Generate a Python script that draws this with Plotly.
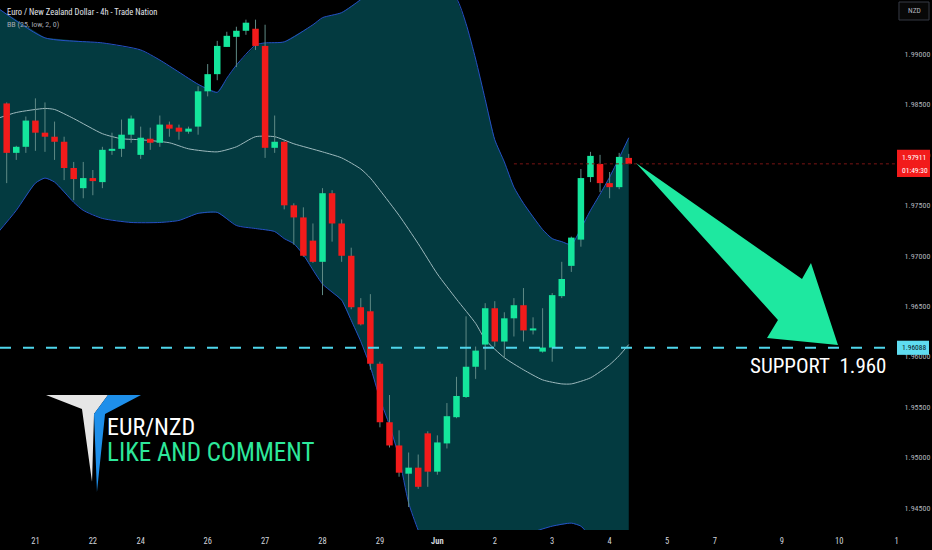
import plotly.graph_objects as go

# --- EUR/NZD 4h candles ---
opens = [1.9851, 1.9802, 1.9808, 1.9834, 1.9822, 1.9818, 1.9813, 1.9787, 1.9767, 1.9777,
         1.9773, 1.9804, 1.9806, 1.9820, 1.9800, 1.9816, 1.9812, 1.9830, 1.9827, 1.9823,
         1.9828, 1.9863, 1.9880, 1.9907, 1.9917, 1.9923, 1.9925, 1.9908, 1.9807, 1.9813,
         1.9750, 1.9738, 1.9715, 1.9694, 1.9762, 1.9732, 1.9700, 1.9649, 1.9645, 1.9593,
         1.9535, 1.9512, 1.9484, 1.9490, 1.9524, 1.9486, 1.9514, 1.9540, 1.9560, 1.9590,
         1.9612, 1.9648, 1.9615, 1.9638, 1.9651, 1.9626, 1.9605, 1.9609, 1.9660, 1.9690,
         1.9716, 1.9778, 1.9791, 1.9772, 1.9768, 1.9797]
highs = [1.9852, 1.9809, 1.9838, 1.9856, 1.9852, 1.9833, 1.9818, 1.9793, 1.9793, 1.9785,
         1.9808, 1.9822, 1.9835, 1.9839, 1.9828, 1.9827, 1.9839, 1.9833, 1.9830, 1.9828,
         1.9868, 1.9890, 1.9913, 1.9922, 1.9927, 1.9934, 1.9934, 1.9929, 1.9839, 1.9815,
         1.9752, 1.9748, 1.9732, 1.9767, 1.9765, 1.9736, 1.9708, 1.9658, 1.9662, 1.9595,
         1.9562, 1.9527, 1.9505, 1.9503, 1.9526, 1.9522, 1.9554, 1.9580, 1.9640, 1.9610,
         1.9653, 1.9655, 1.9644, 1.9658, 1.9668, 1.9639, 1.9648, 1.9663, 1.9694, 1.9719,
         1.9786, 1.9803, 1.9800, 1.9783, 1.9802, 1.9801]
lows = [1.9772, 1.9795, 1.9802, 1.9804, 1.9803, 1.9795, 1.9775, 1.9755, 1.9757, 1.9760,
        1.9767, 1.9800, 1.9798, 1.9812, 1.9796, 1.9805, 1.9808, 1.9818, 1.9815, 1.9821,
        1.9820, 1.9858, 1.9874, 1.9907, 1.9887, 1.9919, 1.9904, 1.9797, 1.9802, 1.9746,
        1.9711, 1.9699, 1.9693, 1.9661, 1.9714, 1.9694, 1.9647, 1.9631, 1.9587, 1.9530,
        1.9510, 1.9481, 1.9451, 1.9469, 1.9471, 1.9483, 1.9509, 1.9539, 1.9559, 1.9578,
        1.9587, 1.9610, 1.9599, 1.9620, 1.9615, 1.9622, 1.9604, 1.9595, 1.9658, 1.9684,
        1.9709, 1.9773, 1.9763, 1.9757, 1.9766, 1.9791]
closes = [1.9802, 1.9808, 1.9834, 1.9822, 1.9818, 1.9813, 1.9787, 1.9776, 1.9777, 1.9774,
          1.9805, 1.9806, 1.9820, 1.9836, 1.9817, 1.9812, 1.9830, 1.9826, 1.9823, 1.9826,
          1.9863, 1.9880, 1.9908, 1.9918, 1.9923, 1.9931, 1.9908, 1.9807, 1.9813, 1.9750,
          1.9738, 1.9700, 1.9694, 1.9762, 1.9732, 1.9700, 1.9649, 1.9632, 1.9593, 1.9535,
          1.9512, 1.9485, 1.9490, 1.9471, 1.9486, 1.9515, 1.9541, 1.9561, 1.9590, 1.9606,
          1.9648, 1.9615, 1.9638, 1.9651, 1.9626, 1.9628, 1.9609, 1.9661, 1.9677, 1.9718,
          1.9777, 1.9799, 1.9772, 1.9768, 1.9798, 1.97911]

# Bollinger band BB(25, low, 2, 0), read at bar positions
upper_x = [-1, 4, 10, 14, 16, 18, 20, 22, 23, 24, 26, 27, 29, 32, 33, 35, 37, 39, 41, 43,
           45, 47, 48, 49, 50, 51, 52, 53, 54, 56, 57, 58, 59, 60, 61, 62, 63, 64, 65]
upper_y = [1.9946, 1.9916, 1.9911, 1.9904, 1.9894, 1.9882, 1.9870, 1.9862, 1.9876, 1.9889,
           1.9909, 1.9911, 1.9912, 1.9929, 1.9936, 1.9941, 1.9954, 1.9970, 1.9982, 1.9982,
           1.9970, 1.9955, 1.9930, 1.9895, 1.9855, 1.9815, 1.9793, 1.9768, 1.9752, 1.9726,
           1.9717, 1.9714, 1.9711, 1.9727, 1.9745, 1.9761, 1.9778, 1.9797, 1.9817]
lower_x = [-1, 1, 3, 4, 5, 7, 8, 10, 13, 16, 18, 20, 22, 24, 26, 28, 29, 30, 31, 32,
           33, 34, 35, 36, 37, 38, 39, 40, 41, 42, 43, 45, 47, 49, 51, 53, 55, 57, 59, 60,
           61, 63, 65]
lower_y = [1.9722, 1.9745, 1.9772, 1.9777, 1.9773, 1.9753, 1.9745, 1.9737, 1.9733, 1.9733,
           1.9735, 1.9742, 1.9743, 1.9730, 1.9727, 1.9724, 1.9717, 1.9712, 1.9701, 1.9686,
           1.9672, 1.9664, 1.9656, 1.9636, 1.9615, 1.9590, 1.9558, 1.9532, 1.9500, 1.9455,
           1.9428, 1.9385, 1.9360, 1.9370, 1.9390, 1.9415, 1.9426, 1.9432, 1.9435, 1.9432,
           1.9422, 1.9410, 1.9407]
basis_x = [-1, 1, 4, 5, 7, 10, 12, 14, 17, 19, 22, 24, 26, 28, 30, 33, 35, 37, 38, 39,
           41, 43, 45, 47, 49, 50, 52, 54, 56, 58, 59, 61, 63, 64, 65]
basis_y = [1.9836, 1.9842, 1.9846, 1.9845, 1.9836, 1.9821, 1.9816, 1.9815, 1.9812, 1.9806,
           1.9803, 1.9808, 1.9818, 1.9818, 1.9811, 1.9803, 1.9797, 1.9786, 1.9777, 1.9765,
           1.9740, 1.9712, 1.9682, 1.9657, 1.9633, 1.9617, 1.9599, 1.9587, 1.9577, 1.9573,
           1.9573, 1.9579, 1.9592, 1.9601, 1.9612]

day_ticks = [3, 9, 14, 21, 27, 33, 39, 45, 51, 57, 63, 69, 74, 81, 87, 93]
day_labels = ["21", "22", "24", "26", "27", "28", "29", "<b>Jun</b>", "2", "3", "4",
              "5", "7", "9", "10", "1"]
price_ticks = [1.945, 1.95, 1.955, 1.96, 1.965, 1.97, 1.975, 1.98, 1.985, 1.99]

support = 1.96088
last_price = closes[-1]
countdown = "01:49:30"

GREEN = "#14e69c"
RED = "#f21b1b"
NARROW = "Liberation Sans Narrow, Arial Narrow, Roboto Condensed, sans-serif"

# plot area is 897 x 530 px, helpers turn screen px into paper coords
PW, PH = 897.0, 530.0


def px(x, y):
    return x / PW, 1 - y / PH


def poly(points):
    pts = [px(x, y) for x, y in points]
    return "M " + " L ".join(f"{a:.4f},{b:.4f}" for a, b in pts) + " Z"


idx = list(range(len(closes)))

# wicks and bodies as line segments so they sit on top of the band fill
wick_x, wick_y = [], []
up_x, up_y, dn_x, dn_y = [], [], [], []
for i, o, h, l, c in zip(idx, opens, highs, lows, closes):
    wick_x += [i, i, None]
    wick_y += [l, h, None]
    lo, hi = min(o, c), max(o, c)
    if hi - lo < 0.00014:
        mid = (hi + lo) / 2
        lo, hi = mid - 0.00007, mid + 0.00007
    if c >= o:
        up_x += [i, i, None]
        up_y += [lo, hi, None]
    else:
        dn_x += [i, i, None]
        dn_y += [lo, hi, None]

fig = go.Figure()

# --- band fill + lines ---
fig.add_trace(go.Scatter(x=upper_x + lower_x[::-1], y=upper_y + lower_y[::-1],
                         fill="toself", fillcolor="#033a40", line=dict(width=0),
                         mode="lines", hoverinfo="skip"))
fig.add_trace(go.Scatter(x=upper_x, y=upper_y, mode="lines",
                         line=dict(color="#2550c4", width=1, shape="spline", smoothing=0.6)))
fig.add_trace(go.Scatter(x=lower_x, y=lower_y, mode="lines",
                         line=dict(color="#2550c4", width=1, shape="spline", smoothing=0.6)))
fig.add_trace(go.Scatter(x=basis_x, y=basis_y, mode="lines",
                         line=dict(color="#9db9bd", width=1, shape="spline", smoothing=0.6)))

# --- candles ---
fig.add_trace(go.Scatter(x=wick_x, y=wick_y, mode="lines",
                         line=dict(color="#5f8a85", width=1), hoverinfo="skip"))
fig.add_trace(go.Scatter(x=up_x, y=up_y, mode="lines", line=dict(color=GREEN, width=6.5)))
fig.add_trace(go.Scatter(x=dn_x, y=dn_y, mode="lines", line=dict(color=RED, width=6.5)))

shapes = [
    # support level
    dict(type="line", xref="paper", x0=0, x1=1, yref="y", y0=support, y1=support,
         line=dict(color="#4fd6ec", width=2, dash="11px,12px")),
    # last price line
    dict(type="line", xref="x", x0=53, x1=93.03, yref="y", y0=last_price, y1=last_price,
         line=dict(color="#7a1414", width=1, dash="dot")),
    # price labels on the scale
    dict(type="rect", xref="paper", x0=px(897, 0)[0], x1=px(930, 0)[0], yref="y",
         y0=last_price - 0.0013, y1=last_price + 0.0014, fillcolor=RED, line=dict(width=0)),
    dict(type="rect", xref="paper", x0=px(897, 0)[0], x1=px(929, 0)[0], yref="y",
         y0=support - 0.0007, y1=support + 0.0007, fillcolor="#5fdcf0", line=dict(width=0)),
    # currency box
    dict(type="path", xref="paper", yref="paper",
         path=poly([(899, 2), (929, 2), (929, 20), (899, 20)]),
         fillcolor="#080808", line=dict(color="#363a45", width=1)),
    # big arrow
    dict(type="path", xref="paper", yref="paper",
         path=poly([(636, 163), (802, 279), (811, 263), (838, 345), (767, 338), (778, 320)]),
         fillcolor="#1ee8a0", line=dict(width=0)),
    # logo
    dict(type="path", xref="paper", yref="paper",
         path=poly([(46, 395), (108, 395), (94, 414), (92, 482), (82, 409)]),
         fillcolor="#e6e6e6", line=dict(width=0)),
    dict(type="path", xref="paper", yref="paper",
         path=poly([(108, 395), (141, 395), (105, 414), (97, 492), (94, 414)]),
         fillcolor="#1e8fea", line=dict(width=0)),
]

annotations = [
    dict(text="Euro / New Zealand Dollar - 4h - Trade Nation", x=px(5, 12)[0], y=px(5, 12)[1],
         font=dict(size=8.5, color="#e0e3eb", family=NARROW)),
    dict(text="BB (25, low, 2, 0)", x=px(5, 25)[0], y=px(5, 25)[1],
         font=dict(size=8, color="#a3a6af", family=NARROW)),
    dict(text="SUPPORT\u00a0\u00a01.960", x=px(748, 366)[0], y=px(748, 366)[1],
         font=dict(size=21, color="#ffffff", family=NARROW)),
    dict(text="EUR/NZD", x=px(105, 427)[0], y=px(105, 427)[1],
         font=dict(size=24, color="#ffffff", family=NARROW)),
    dict(text="LIKE AND COMMENT", x=px(105, 452)[0], y=px(105, 452)[1],
         font=dict(size=25, color="#2de89b", family=NARROW)),
    dict(text="NZD", x=px(906, 11)[0], y=px(906, 11)[1],
         font=dict(size=7.5, color="#b2b5be", family=NARROW)),
]
for a in annotations:
    a.update(xref="paper", yref="paper", xanchor="left", yanchor="middle", showarrow=False)

annotations += [
    dict(text=f"{last_price:.5f}", xref="paper", x=px(900, 0)[0], yref="y", y=last_price,
         yshift=6, xanchor="left", yanchor="middle", showarrow=False,
         font=dict(size=7.5, color="#ffffff", family=NARROW)),
    dict(text=countdown, xref="paper", x=px(900, 0)[0], yref="y", y=last_price,
         yshift=-7, xanchor="left", yanchor="middle", showarrow=False,
         font=dict(size=7.5, color="#ffffff", family=NARROW)),
    dict(text=f"{support:.5f}", xref="paper", x=px(900, 0)[0], yref="y", y=support,
         xanchor="left", yanchor="middle", showarrow=False,
         font=dict(size=7.5, color="#0a1a1f", family=NARROW)),
]

fig.update_layout(
    width=932, height=550,
    margin=dict(l=0, r=35, t=0, b=20),
    paper_bgcolor="#000000", plot_bgcolor="#000000",
    showlegend=False, hovermode=False,
    shapes=shapes, annotations=annotations,
    font=dict(family=NARROW),
)
fig.update_xaxes(range=[-0.7, 93.03], showgrid=False, zeroline=False, showline=False,
                 tickvals=day_ticks, ticktext=day_labels, ticks="outside", ticklen=3,
                 tickcolor="#000000", tickfont=dict(size=8.5, color="#d1d4dc", family=NARROW))
fig.update_yaxes(range=[1.94282, 1.99535], side="right", showgrid=False, zeroline=False,
                 showline=False, tickvals=price_ticks, tickformat=".5f", ticks="outside",
                 ticklen=5, tickcolor="#000000",
                 tickfont=dict(size=8, color="#b2b5be", family=NARROW))

# page margin off so the chart fills the 932x550 window
fig.write_html("out.html", config={"displayModeBar": False},
               post_script="document.body.style.margin='0';"
               "document.body.style.background='#000';")
